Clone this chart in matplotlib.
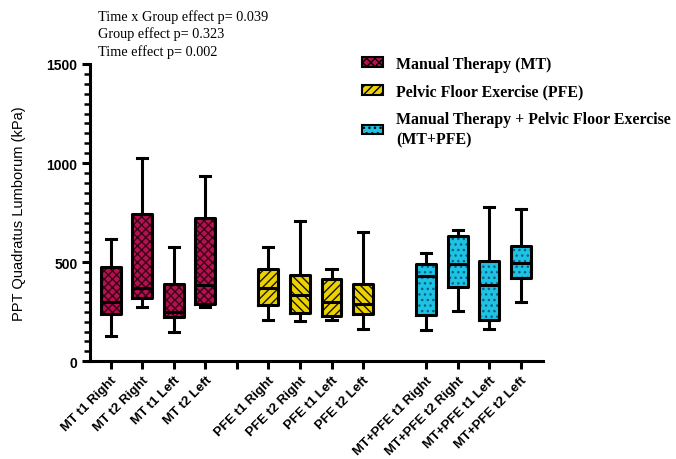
import matplotlib
matplotlib.use("Agg")
import matplotlib.pyplot as plt
from matplotlib.patches import Patch

# ---------------- data ----------------
labels = ["MT t1 Right", "MT t2 Right", "MT t1 Left", "MT t2 Left",
          "PFE t1 Right", "PFE t2 Right", "PFE t1 Left", "PFE t2 Left",
          "MT+PFE t1 Right", "MT+PFE t2 Right", "MT+PFE t1 Left", "MT+PFE t2 Left"]
positions = [1, 2, 3, 4, 6, 7, 8, 9, 11, 12, 13, 14]

whislo = [129, 272, 150, 276, 210, 202, 207, 163, 160, 252, 165, 299]
q1     = [239, 318, 225, 289, 286, 244, 230, 239, 235, 375, 209, 421]
med    = [298, 368, 247, 385, 369, 336, 301, 289, 429, 490, 385, 498]
q3     = [476, 743, 390, 721, 466, 436, 416, 389, 493, 633, 505, 582]
whishi = [617, 1026, 577, 937, 576, 710, 465, 651, 547, 663, 776, 769]

groups = ["MT"] * 4 + ["PFE"] * 4 + ["MTPFE"] * 4
face = {"MT": "#b3124f", "PFE": "#ecd200", "MTPFE": "#1ec3e3"}
hatch_col = {"MT": "#3b0019", "PFE": "#1a1600", "MTPFE": "#0a5f86"}
hatches = ["xxxx", "xxxx", "xxxx", "xxxx",
           "////", "\\\\\\\\", "////", "\\\\\\\\",
           "...", "...", "...", "..."]

legend_labels = ["Manual Therapy (MT)", "Pelvic Floor Exercise (PFE)",
                 "Manual Therapy + Pelvic Floor Exercise\n(MT+PFE)"]

stats_text = "Time x Group effect p= 0.039\nGroup effect p= 0.323\nTime effect p= 0.002"

# ---------------- plot ----------------
plt.rcParams["hatch.linewidth"] = 1.0

fig = plt.figure(figsize=(6.76, 4.6), dpi=100)
ax = fig.add_axes([0.133, 0.2124, 0.67, 0.6463])

stats = []
for i in range(len(labels)):
    stats.append({"whislo": whislo[i], "q1": q1[i], "med": med[i],
                  "q3": q3[i], "whishi": whishi[i], "fliers": [], "label": labels[i]})

# filled + hatched boxes (hatch colour follows edge colour, so no outline here)
bp = ax.bxp(stats, positions=positions, widths=0.63, patch_artist=True,
            showfliers=False, showcaps=False,
            whiskerprops=dict(linewidth=0), medianprops=dict(linewidth=0))
for i, box in enumerate(bp["boxes"]):
    g = groups[i]
    box.set_facecolor(face[g])
    box.set_edgecolor(hatch_col[g])
    box.set_hatch(hatches[i])
    box.set_linewidth(0)

# black outlines, whiskers, caps, medians
ax.bxp(stats, positions=positions, widths=0.63, showfliers=False,
       capwidths=0.32,
       boxprops=dict(color="black", linewidth=2.2),
       whiskerprops=dict(color="black", linewidth=2.2),
       capprops=dict(color="black", linewidth=2.2),
       medianprops=dict(color="black", linewidth=2.2))

ax.set_xlim(0.34, 14.7)
ax.set_ylim(0, 1500)
tick_pos = [1, 2, 3, 4, 5, 6, 7, 8, 9, 11, 12, 13, 14]
tick_lab = labels[:4] + [""] + labels[4:]
ax.set_xticks(tick_pos)
ax.set_xticklabels(tick_lab, rotation=45, ha="right", rotation_mode="anchor",
                   fontsize=9.5, fontweight="bold", family="Liberation Sans")
ax.set_yticks([0, 500, 1000, 1500])
ax.set_yticks(range(0, 1501, 50), minor=True)
for t in ax.get_yticklabels():
    t.set_fontweight("bold")
    t.set_fontsize(10)
    t.set_family("Liberation Sans")
ax.tick_params(axis="both", which="major", width=2.2, length=6, pad=3)
ax.tick_params(axis="y", which="minor", width=1.8, length=4)
ax.tick_params(axis="x", which="minor", bottom=False)
ax.spines["top"].set_visible(False)
ax.spines["right"].set_visible(False)
ax.spines["left"].set_linewidth(2.2)
ax.spines["bottom"].set_linewidth(2.2)

ax.set_ylabel("PPT Quadratus Lumborum (kPa)", fontsize=10.5,
              family="Liberation Sans", labelpad=15)

fig.text(0.145, 0.978, stats_text, ha="left", va="top", fontsize=10.3,
         family="Liberation Serif", linespacing=1.33)

handles = []
for g in ["MT", "PFE", "MTPFE"]:
    idx = groups.index(g)
    handles.append(Patch(facecolor=face[g], edgecolor="black", hatch=hatches[idx],
                         linewidth=1.5))
leg = fig.legend(handles, legend_labels, loc="upper left",
                 bbox_to_anchor=(0.515, 0.908), frameon=False,
                 prop=dict(family="Liberation Serif", weight="bold", size=11.4),
                 handlelength=1.3, handleheight=0.55, handletextpad=0.85,
                 labelspacing=0.75)
leg.get_texts()[2].set_linespacing(1.3)

fig.savefig("out.png", dpi=100)
